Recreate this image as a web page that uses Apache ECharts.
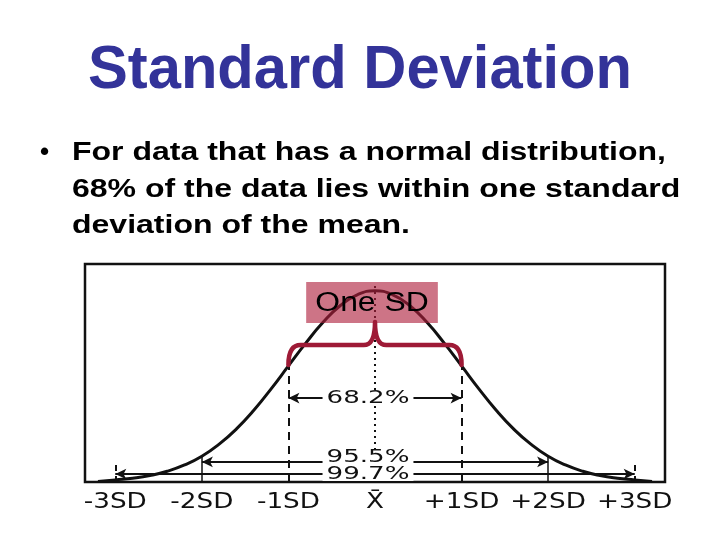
<!DOCTYPE html>
<html><head><meta charset="utf-8">
<script src="https://cdn.jsdelivr.net/npm/echarts@6/dist/echarts.min.js"></script>
<style>html,body{margin:0;padding:0;background:#fff}#c{width:720px;height:540px}</style>
</head><body><div id="c"></div>
<script>
// Curve: x in SD units, height relative to peak (=100)
const curveX = [-3.2,-3.0,-2.8,-2.6,-2.4,-2.2,-2.0,-1.8,-1.6,-1.4,-1.2,-1.0,-0.8,-0.6,-0.4,-0.2,0,0.2,0.4,0.6,0.8,1.0,1.2,1.4,1.6,1.8,2.0,2.2,2.4,2.6,2.8,3.0,3.2];
const curveY = [0.2,1.1,2.0,3.4,5.6,8.9,13.5,19.8,27.8,37.5,48.7,60.7,72.6,83.5,92.3,98.0,100,98.0,92.3,83.5,72.6,60.7,48.7,37.5,27.8,19.8,13.5,8.9,5.6,3.4,2.0,1.1,0.2];
const tickValues = [-3,-2,-1,0,1,2,3];
const tickLabels = ['-3SD','-2SD','-1SD','X\u0304','+1SD','+2SD','+3SD'];
const rangeLabels = ['68.2%','95.5%','99.7%'];
const rangeSpans = [1,2,3];
const rangeLevels = [43.9,10.5,4.2];
const titleText = 'Standard Deviation';
const bulletLines = ['For data that has a normal distribution,','68% of the data lies within one standard','deviation of the mean.'];
const boxLabel = 'One SD';

const mctx = document.createElement('canvas').getContext('2d');
function textW(t, font){ mctx.font = font; return mctx.measureText(t).width; }
const titleFont = 'bold 62px "Liberation Sans", Arial, sans-serif';
const bodyFont = 'bold 26px "Liberation Sans", Arial, sans-serif';
const titleScale = 544 / textW(titleText, titleFont);
const bodyScale = 594 / textW(bulletLines[0], bodyFont);
const stencilFont = '21px "DejaVu Sans"';
const pctFont = '18px "DejaVu Sans"';
const boxFont = '27px "Liberation Sans", Arial, sans-serif';

const chart = echarts.init(document.getElementById('c'), null, {renderer:'canvas'});
const curveData = curveX.map((x,i)=>[x,curveY[i]]);

const rangeMarks = rangeLabels.map((t,i)=>[
  {coord:[-rangeSpans[i], rangeLevels[i]]},
  {coord:[rangeSpans[i], rangeLevels[i]]}
]);

const vLines = [
  [{coord:[-1,0], lineStyle:{type:[8,6],width:2}},{coord:[-1,61]}],
  [{coord:[1,0], lineStyle:{type:[8,6],width:2}},{coord:[1,61]}],
  [{coord:[-2,0], lineStyle:{type:'solid',width:1.5}},{coord:[-2,13.5]}],
  [{coord:[2,0], lineStyle:{type:'solid',width:1.5}},{coord:[2,13.5]}],
  [{coord:[-3,0], lineStyle:{type:[6,5],width:2}},{coord:[-3,10.5]}],
  [{coord:[3,0], lineStyle:{type:[6,5],width:2}},{coord:[3,10.5]}],
  [{coord:[0,1], lineStyle:{type:[2,4],width:2}},{coord:[0,103]}]
];

chart.setOption({
  animation:false,
  backgroundColor:'#fff',
  grid:{left:85,top:264,width:580,height:218,show:true,borderColor:'#111',borderWidth:2.5,backgroundColor:'transparent'},
  xAxis:{type:'value',min:-3.35,max:3.35,
    axisLine:{show:false},axisTick:{show:false},splitLine:{show:false},axisLabel:{show:false}},
  yAxis:{type:'value',min:0,max:114,show:false,splitLine:{show:false}},
  series:[
    {type:'line',data:curveData,smooth:true,showSymbol:false,lineStyle:{color:'#111',width:3},z:2,
      markLine:{z:2,silent:true,symbol:['none','none'],lineStyle:{color:'#111'},label:{show:false},data:vLines}},
    {type:'line',data:[],z:3,
      markLine:{z:3,silent:true,symbol:['arrow','arrow'],symbolSize:[8,11],lineStyle:{color:'#111',width:2,type:'solid'},
        label:{show:false},data:rangeMarks}},
    // percentage labels, sitting on their arrows
    {type:'custom',z:8,clip:false,data:rangeLabels.map((t,i)=>[0,rangeLevels[i],i]),
      renderItem:(params,api)=>{
        const i = api.value(2); const p = api.coord([api.value(0),api.value(1)]);
        const t = rangeLabels[i];
        const sx = 1.45;
        const w = textW(t,pctFont)*sx + 8;
        const dy = i===1 ? -5 : 0;
        return {type:'group',children:[
          {type:'rect',shape:{x:p[0]-7-w/2,y:p[1]+dy-7,width:w,height:14},style:{fill:'#fff'}},
          {type:'text',x:p[0]-7,y:p[1]+dy,scaleX:sx,style:{text:t,font:pctFont,fill:'#111',align:'center',verticalAlign:'middle'}}
        ]};
      }},
    // axis tick labels
    {type:'custom',z:8,clip:false,data:tickValues.map((v,i)=>[v,0,i]),
      renderItem:(params,api)=>{
        const p = api.coord([api.value(0),0]);
        return {type:'text',x:p[0],y:p[1]+21,scaleX:1.25,style:{text:tickLabels[api.value(2)],font:stencilFont,fill:'#111',align:'center',verticalAlign:'middle'}};
      }},
    // "One SD" highlight box
    {type:'custom',z:9,clip:false,data:[[-0.795,104.6,0.726,83.1]],
      renderItem:(params,api)=>{
        const a = api.coord([api.value(0),api.value(1)]);
        const b = api.coord([api.value(2),api.value(3)]);
        return {type:'group',children:[
          {type:'rect',shape:{x:a[0],y:a[1],width:b[0]-a[0],height:b[1]-a[1]},style:{fill:'rgba(175,30,60,0.62)'}},
          {type:'text',x:(a[0]+b[0])/2,y:(a[1]+b[1])/2+1,scaleX:1.18,style:{text:boxLabel,font:boxFont,fill:'#000',align:'center',verticalAlign:'middle'}}
        ]};
      }},
    // curly brace spanning one SD either side
    {type:'custom',z:10,clip:false,data:[[1,61.2,71.6,83.7]],
      renderItem:(params,api)=>{
        const s = api.value(0), lo = api.value(1), mid = api.value(2), tip = api.value(3);
        const P = (x,y)=>api.coord([x,y]);
        const f = p=>p[0].toFixed(1)+' '+p[1].toFixed(1);
        const path = 'M'+f(P(-s,lo))+' Q'+f(P(-s,mid))+' '+f(P(-s*0.86,mid))+' L'+f(P(-s*0.13,mid))+
          ' Q'+f(P(0,mid))+' '+f(P(0,tip))+' Q'+f(P(0,mid))+' '+f(P(s*0.13,mid))+
          ' L'+f(P(s*0.86,mid))+' Q'+f(P(s,mid))+' '+f(P(s,lo));
        return {type:'path',shape:{pathData:path},style:{fill:null,stroke:'#9e1a36',lineWidth:4.5,lineCap:'round',lineJoin:'round'}};
      }}
  ],
  graphic:[
    {type:'text',x:360,y:71,scaleX:titleScale,style:{text:titleText,fill:'#333399',font:titleFont,textAlign:'center',textVerticalAlign:'middle'}},
    {type:'text',x:40,y:153,style:{text:'\u2022',fill:'#000',font:bodyFont,textVerticalAlign:'middle'}},
    {type:'text',x:72,y:153,scaleX:bodyScale,style:{text:bulletLines[0],fill:'#000',font:bodyFont,textVerticalAlign:'middle'}},
    {type:'text',x:72,y:190,scaleX:bodyScale,style:{text:bulletLines[1],fill:'#000',font:bodyFont,textVerticalAlign:'middle'}},
    {type:'text',x:72,y:226,scaleX:bodyScale,style:{text:bulletLines[2],fill:'#000',font:bodyFont,textVerticalAlign:'middle'}}
  ]
});
</script></body></html>
